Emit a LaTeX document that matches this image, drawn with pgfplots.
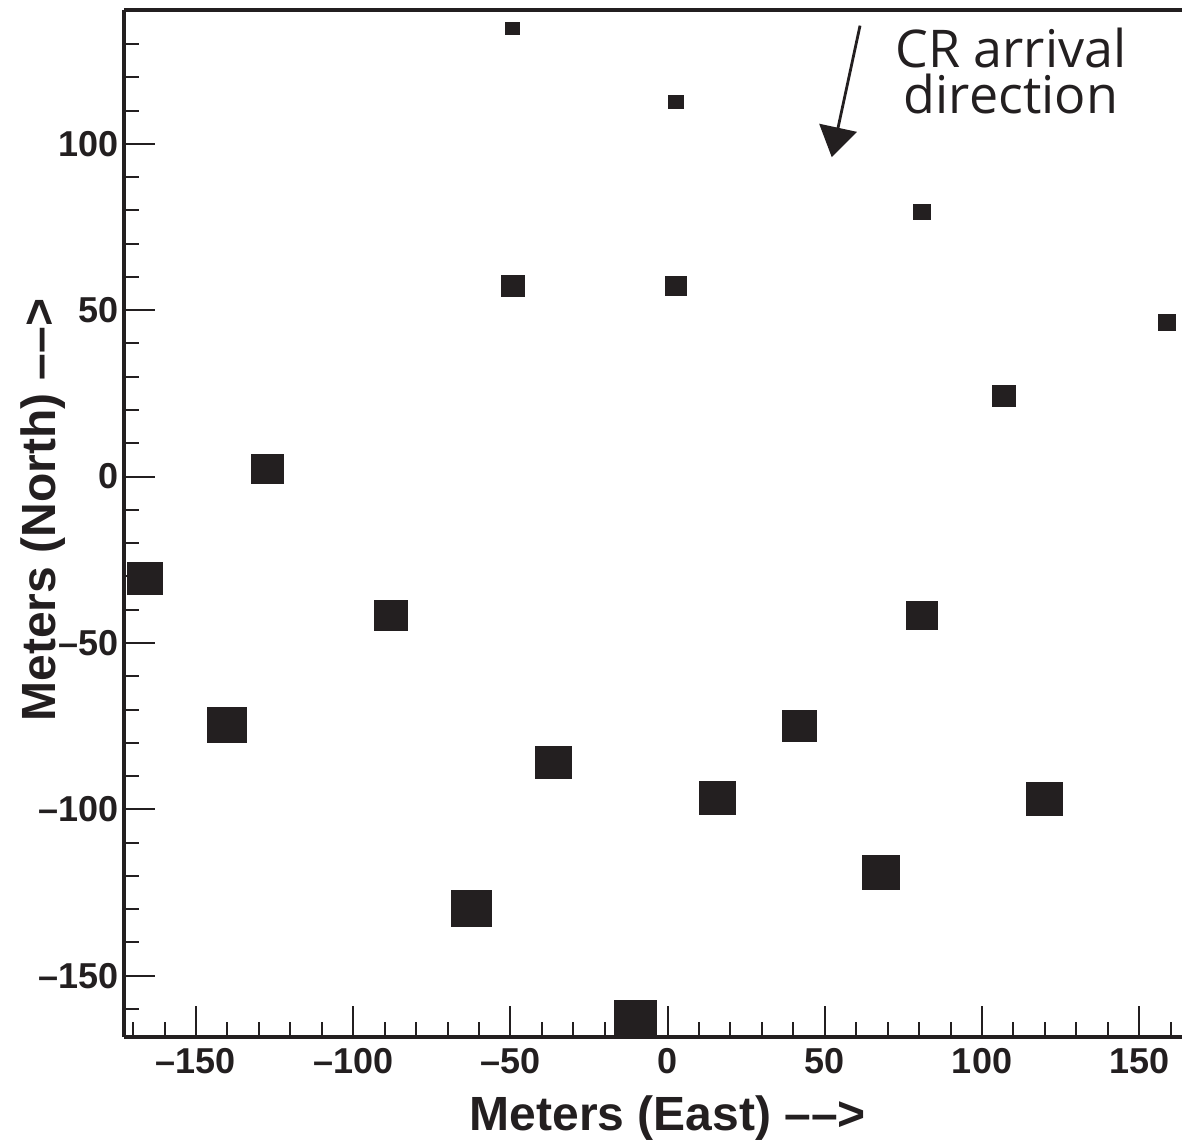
\documentclass[border=0pt]{standalone}
\usepackage{fontspec}
\setmainfont{Liberation Sans}
\newfontfamily\annot{Open Sans}
\usepackage{pgfplots}
\pgfplotsset{compat=1.18}
\usetikzlibrary{arrows.meta}
\definecolor{ink}{HTML}{231F20}

\begin{document}
\begin{tikzpicture}
  \begin{axis}[
    scale only axis,
    width=264.5pt, height=256.75pt,
    xmin=-172.9, xmax=163.6,
    ymin=-168.4, ymax=140.2,
    enlargelimits=false,
    axis x line*=bottom, axis y line*=left,
    axis line style={line width=1pt, color=ink},
    tick align=inside,
    xtick pos=bottom, ytick pos=left,
    major tick length=7.75pt, minor tick length=3.75pt,
    every tick/.style={line width=0.5pt, color=ink},
    xtick={-150,-100,...,150},
    xticklabels={–150,–100,–50,0,50,100,150},
    minor xtick={-170,-160,...,160},
    ytick={-150,-100,...,100},
    yticklabels={–150,–100,–50,0,50,100},
    minor ytick={-160,-150,...,130},
    tick label style={font=\fontsize{9}{10}\selectfont\bfseries, text=ink},
    xticklabel style={anchor=north, inner sep=0pt, yshift=-2.75pt},
    yticklabel style={anchor=east, inner sep=0pt, xshift=-1.25pt},
    xlabel={Meters (East) ––>},
    ylabel={Meters (North) ––>},
    label style={font=\fontsize{12}{14}\selectfont\bfseries, text=ink, inner sep=0pt},
    xlabel style={at={(axis description cs:0.514,-0.0906)}, anchor=base},
    ylabel style={at={(axis description cs:-0.0652,0.513)}, anchor=base},
    clip marker paths=true,
  ]
    % x, y in meters; h = marker height in pixels of the original
    \addplot[scatter, only marks, mark=square*, point meta=y,
      scatter/use mapped color={draw=ink, fill=ink},
      mark options={xscale=1.1, line width=0.1pt},
      visualization depends on={0.125*\thisrow{h} \as \msize},
      scatter/@pre marker code/.append style={/tikz/mark size=\msize}]
    table {
      x       y       h
      -49.4   134.6   12
      2.6     112.5   13
      80.8    79.5    15
      -49.3   57.4    21
      2.6     57.4    19
      158.7   46.4    16
      107.0   24.3    21
      -127.4  2.4     29
      -166.3  -30.4   32
      -88.2   -41.6   30
      80.7    -41.6   28
      -140.3  -74.7   35
      41.9    -74.8   31
      -36.4   -85.7   32
      15.7    -96.6   33
      119.8   -96.7   33
      67.7    -118.8  34
      -62.5   -129.8  36
      -10.3   -162.9  38
    };
    \draw[ink, line width=0.7pt, -{Triangle[length=7.5pt, width=9.5pt]}]
      (axis cs:61.2,135.5) -- (axis cs:52.2,96.0);
    \node[anchor=base, inner sep=0pt, font=\annot\fontsize{13}{14}\selectfont, text=ink]
      at (axis cs:109.2,122.9) {CR arrival};
    \node[anchor=base, inner sep=0pt, font=\annot\fontsize{13}{14}\selectfont, text=ink]
      at (axis cs:109.2,109.1) {direction};
  \end{axis}
  \draw[ink, line width=1pt] (current axis.north west) -- (current axis.north east);
  \pgfresetboundingbox
  \path[use as bounding box] (-31pt,-25.75pt) rectangle (264.5pt,259.25pt);
\end{tikzpicture}
\end{document}
